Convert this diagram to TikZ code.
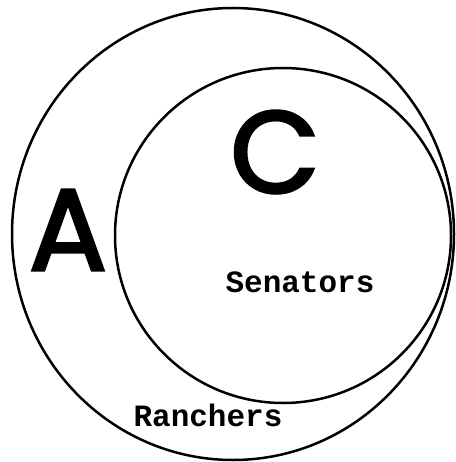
\documentclass[tikz,border=0pt]{standalone}
\usepackage{fontspec}
\newfontfamily\letterfont[FakeBold=2.5]{Poppins}
\newfontfamily\setfont{Liberation Mono}
\usepackage{tikz}
\usetikzlibrary{positioning, shapes.geometric}

\begin{document}
\begin{tikzpicture}[
    x=1pt, y=-1pt,
    setline/.style={draw=black, line width=2.5pt, ellipse, inner sep=0pt},
    letter/.style={font=\letterfont\fontsize{116}{116}\selectfont, inner sep=0pt},
    setname/.style={font=\setfont\bfseries\fontsize{31}{31}\selectfont, inner sep=0pt}
]
\useasboundingbox (0,0) rectangle (455,462);

% Ranchers
\node (ranchers) [setline, minimum width=442pt, minimum height=452pt] at (233,234) {};

% Senators
\node (senators) [setline, minimum width=336pt, minimum height=335pt] at (283,235.5) {};

% Labels
\node (labelA) [letter] at (68,230) {A};
\node (labelC) [letter] at (275,152) {C};
\node (nameS) [setname] at (300,282) {Senators};
\node (nameR) [setname] at (208,415) {Ranchers};

\end{tikzpicture}
\end{document}
